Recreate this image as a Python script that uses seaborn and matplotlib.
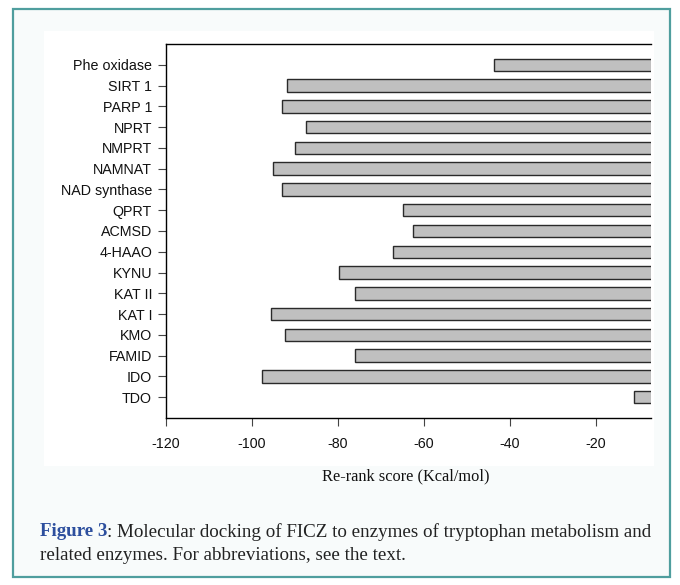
import matplotlib
matplotlib.use('Agg')
import matplotlib.pyplot as plt
import seaborn as sns
import pandas as pd
from matplotlib.patches import Rectangle

# Re-rank scores (Kcal/mol)
enzymes = ['Phe oxidase', 'SIRT 1', 'PARP 1', 'NPRT', 'NMPRT', 'NAMNAT',
           'NAD synthase', 'QPRT', 'ACMSD', '4-HAAO', 'KYNU', 'KAT II',
           'KAT I', 'KMO', 'FAMID', 'IDO', 'TDO']
scores = [-43.6, -91.8, -92.9, -87.4, -89.9, -95.0, -93.1, -64.9, -62.5,
          -67.2, -79.8, -76.1, -95.6, -92.3, -76.1, -97.6, -11.0]
xticks = [-120, -100, -80, -60, -40, -20]

df = pd.DataFrame({'enzyme': enzymes, 'score': scores})

sns.set_style('white')
plt.rcParams['font.family'] = ['Liberation Sans', 'DejaVu Sans']

W, H = 680, 585
fig = plt.figure(figsize=(W / 100, H / 100), dpi=100)
fig.patch.set_facecolor('white')

# outer framed panel and the white plot area
fig.patches.append(Rectangle((13 / W, 1 - 577 / H), 657 / W, 568 / H,
                             transform=fig.transFigure, facecolor='#f8fbfb',
                             edgecolor='#4f9e9e', linewidth=1.6, zorder=-2))
fig.patches.append(Rectangle((44 / W, 1 - 466 / H), 610 / W, 435 / H,
                             transform=fig.transFigure, facecolor='white',
                             edgecolor='none', zorder=-1))

ax = fig.add_axes([166 / W, 1 - 418 / H, 485 / W, 374 / H])
ax.set_zorder(2)
ax.set_facecolor('none')
sns.barplot(data=df, x='score', y='enzyme', orient='h', color='#c0c0c0',
            edgecolor='#2a2a2a', linewidth=1.0, width=0.6, saturation=1,
            ax=ax)

ax.set_xlim(-120, -7.1)
ax.set_ylim(len(enzymes), -1)
ax.set_xticks(xticks)
ax.set_xticklabels([str(t) for t in xticks])
ax.set_xlabel('')
ax.set_ylabel('')

for side in ['top', 'bottom', 'left']:
    ax.spines[side].set_visible(True)
    ax.spines[side].set_color('black')
    ax.spines[side].set_linewidth(1.0)
ax.spines['right'].set_visible(False)

ax.tick_params(axis='both', which='major', direction='out', length=6,
               width=0.8, color='#444444', labelsize=10.3, labelcolor='#111111')
ax.tick_params(axis='x', pad=8)
ax.tick_params(axis='y', pad=4)
ax.xaxis.set_ticks_position('bottom')
ax.yaxis.set_ticks_position('left')

fig.text(406 / W, 1 - 476 / H, 'Re-rank score (Kcal/mol)', ha='center',
         va='center', fontsize=11.8, family='Liberation Serif', color='#111111')

# caption
renderer = fig.canvas.get_renderer()
cap_kw = dict(fontsize=13.7, family='Liberation Serif', va='center')
t1 = fig.text(40 / W, 1 - 532 / H, 'Figure 3', color='#2d4f9e',
              fontweight='bold', **cap_kw)
bb = t1.get_window_extent(renderer=renderer)
fig.text(bb.x1 / W, 1 - 532 / H,
         ': Molecular docking of FICZ to enzymes of tryptophan metabolism and',
         color='#222222', **cap_kw)
fig.text(40 / W, 1 - 555 / H,
         'related enzymes. For abbreviations, see the text.',
         color='#222222', **cap_kw)

fig.savefig('out.png', dpi=100)
